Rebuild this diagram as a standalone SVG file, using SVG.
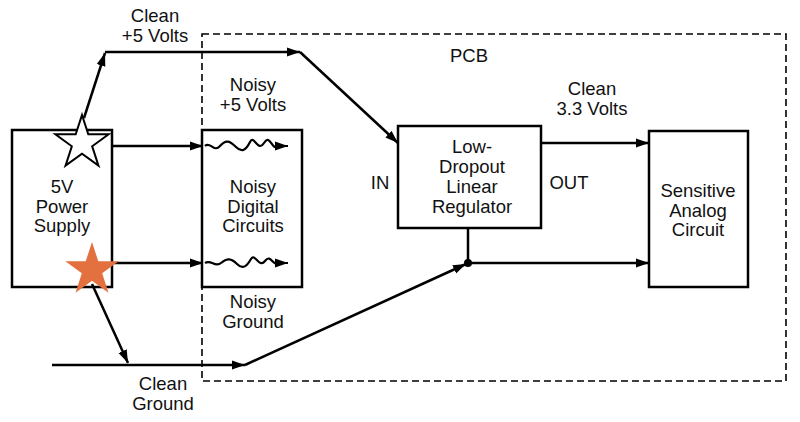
<svg xmlns="http://www.w3.org/2000/svg" width="800" height="422" viewBox="0 0 800 422">
<style>
.box{fill:#fff;stroke:#000;stroke-width:2.5}
.ln{fill:none;stroke:#000;stroke-width:2.5}
.wave{fill:none;stroke:#000;stroke-width:2.2}
.pcb{fill:none;stroke:#000;stroke-width:1.6;stroke-dasharray:7,4}
text{font-family:"Liberation Sans",Arial,sans-serif;font-size:18.5px;fill:#111;text-anchor:middle}
</style>
<defs>
<marker id="ah" markerUnits="userSpaceOnUse" markerWidth="14" markerHeight="10" refX="13" refY="5" orient="auto">
<path d="M0,0.5 L13,5 L0,9.5 z" fill="#000"/>
</marker>
</defs>
<rect width="800" height="422" fill="#fff"/>
<g id="pcb">
<rect class="pcb" x="202" y="34" width="584" height="347"/>
<text x="469" y="62">PCB</text>
</g>
<g id="supply">
<rect class="box" x="12" y="130" width="100" height="157"/>
<text x="62" y="193">5V</text>
<text x="62" y="213">Power</text>
<text x="62" y="232">Supply</text>
</g>
<g id="digital">
<rect class="box" x="202" y="130" width="100" height="157"/>
<text x="253" y="193">Noisy</text>
<text x="253" y="213">Digital</text>
<text x="253" y="232">Circuits</text>
</g>
<g id="regulator">
<rect class="box" x="398" y="126" width="143" height="102"/>
<text x="472" y="153">Low-</text>
<text x="472" y="173">Dropout</text>
<text x="472" y="193">Linear</text>
<text x="472" y="213">Regulator</text>
</g>
<g id="analog">
<rect class="box" x="649" y="131" width="99" height="156"/>
<text x="698" y="197">Sensitive</text>
<text x="698" y="217">Analog</text>
<text x="698" y="236">Circuit</text>
</g>
<g id="connectors">
<path class="ln" d="M84,118 L105,53" marker-end="url(#ah)"/>
<path class="ln" d="M105,52 L300,52" marker-end="url(#ah)"/>
<path class="ln" d="M300,52 L398,143" marker-end="url(#ah)"/>
<path class="ln" d="M112,146 L203,146" marker-end="url(#ah)"/>
<path class="wave" d="M205,146 C210,141 214,153 220,146 S230,141 236,147 S246,150 250,142 S258,153 264,143 S272,151 277,146 L288,146" marker-end="url(#ah)"/>
<path class="ln" d="M112,263 L203,263" marker-end="url(#ah)"/>
<path class="wave" d="M205,263 C211,259 215,268 221,263 S231,258 237,264 S247,266 251,259 S259,269 265,261 S273,267 278,263 L288,263" marker-end="url(#ah)"/>
<path class="ln" d="M92,284 L128,363" marker-end="url(#ah)"/>
<path class="ln" d="M52,365 L245,365" marker-end="url(#ah)"/>
<path class="ln" d="M245,365 L466,264" marker-end="url(#ah)"/>
<path class="ln" d="M468,228 L468,263"/>
<path class="ln" d="M468,263 L649,263" marker-end="url(#ah)"/>
<path class="ln" d="M541,143 L649,143" marker-end="url(#ah)"/>
<circle cx="468" cy="263" r="4" fill="#000"/>
</g>
<g id="labels">
<text x="155" y="22">Clean</text>
<text x="155" y="42">+5 Volts</text>
<text x="253" y="91">Noisy</text>
<text x="253" y="111">+5 Volts</text>
<text x="592" y="95">Clean</text>
<text x="592" y="115">3.3 Volts</text>
<text x="380" y="189">IN</text>
<text x="569" y="189">OUT</text>
<text x="253" y="308">Noisy</text>
<text x="253" y="328">Ground</text>
<text x="163" y="390">Clean</text>
<text x="163" y="410">Ground</text>
</g>
<g id="star-clean">
<polygon transform="translate(82,143)" points="0,-28 6.29,-8.66 26.63,-8.65 10.18,3.31 16.46,22.65 0,10.7 -16.46,22.65 -10.18,3.31 -26.63,-8.65 -6.29,-8.66" fill="#fff" stroke="#000" stroke-width="2"/>
</g>
<g id="star-noisy">
<polygon transform="translate(92,270)" points="0,-28 6.29,-8.66 26.63,-8.65 10.18,3.31 16.46,22.65 0,10.7 -16.46,22.65 -10.18,3.31 -26.63,-8.65 -6.29,-8.66" fill="#E3713F"/>
</g>
</svg>
